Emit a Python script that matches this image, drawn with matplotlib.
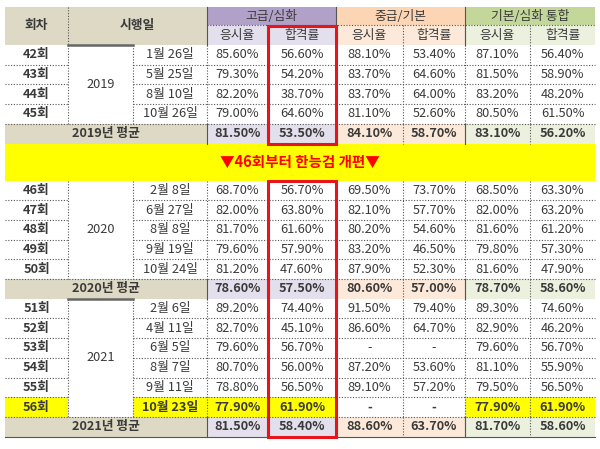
import matplotlib
matplotlib.use("Agg")
import matplotlib.pyplot as plt
from matplotlib.patches import Rectangle

plt.rcParams['font.family'] = 'Noto Sans CJK KR'

# ---- data ----
rounds_2019 = ['42회', '43회', '44회', '45회']
dates_2019 = ['1월 26일', '5월 25일', '8월 10일', '10월 26일']
vals_2019 = [
    ['85.60%', '56.60%', '88.10%', '53.40%', '87.10%', '56.40%'],
    ['79.30%', '54.20%', '83.70%', '64.60%', '81.50%', '58.90%'],
    ['82.20%', '38.70%', '83.70%', '64.00%', '83.20%', '48.20%'],
    ['79.00%', '64.60%', '81.10%', '52.60%', '80.50%', '61.50%'],
]
avg_2019 = ['81.50%', '53.50%', '84.10%', '58.70%', '83.10%', '56.20%']

rounds_2020 = ['46회', '47회', '48회', '49회', '50회']
dates_2020 = ['2월 8일', '6월 27일', '8월 8일', '9월 19일', '10월 24일']
vals_2020 = [
    ['68.70%', '56.70%', '69.50%', '73.70%', '68.50%', '63.30%'],
    ['82.00%', '63.80%', '82.10%', '57.70%', '82.00%', '63.20%'],
    ['81.70%', '61.60%', '80.20%', '54.60%', '81.60%', '61.20%'],
    ['79.60%', '57.90%', '83.20%', '46.50%', '79.80%', '57.30%'],
    ['81.20%', '47.60%', '87.90%', '52.30%', '81.60%', '47.90%'],
]
avg_2020 = ['78.60%', '57.50%', '80.60%', '57.00%', '78.70%', '58.60%']

rounds_2021 = ['51회', '52회', '53회', '54회', '55회', '56회']
dates_2021 = ['2월 6일', '4월 11일', '6월 5일', '8월 7일', '9월 11일', '10월 23일']
vals_2021 = [
    ['89.20%', '74.40%', '91.50%', '79.40%', '89.30%', '74.60%'],
    ['82.70%', '45.10%', '86.60%', '64.70%', '82.90%', '46.20%'],
    ['79.60%', '56.70%', '-', '-', '79.60%', '56.70%'],
    ['80.70%', '56.00%', '87.20%', '53.60%', '81.10%', '55.90%'],
    ['78.80%', '56.50%', '89.10%', '57.20%', '79.50%', '56.50%'],
    ['77.90%', '61.90%', '-', '-', '77.90%', '61.90%'],
]
avg_2021 = ['81.50%', '58.40%', '88.60%', '63.70%', '81.70%', '58.60%']

groups = ['고급/심화', '중급/기본', '기본/심화 통합']
sub = ['응시율', '합격률']
banner = '▼46회부터 한능검 개편▼'

# ---- layout ----
xs = [5, 68, 133, 207, 268, 336, 403, 465, 530, 595]
tan = '#ddd9c4'
hdr_col = ['#b1a0c7', '#fcd5b4', '#c4d79b']
light_col = ['#e4dfec', '#fde9d9', '#ebf1de']
RH = 19.7

fig = plt.figure(figsize=(6.0, 4.49), dpi=100)
ax = fig.add_axes([0, 0, 1, 1])
ax.set_xlim(0, 600)
ax.set_ylim(449, 0)
ax.axis('off')


def rect(x0, y0, x1, y1, fc, **kw):
    ax.add_patch(Rectangle((x0, y0), x1 - x0, y1 - y0, facecolor=fc, edgecolor='none', **kw))


def txt(x, y, s, bold=False, color='#3a3a3a', size=9.2):
    ax.text(x, y, s, ha='center', va='center', fontsize=size, color=color,
            fontweight='bold' if bold else 'normal')


def hdotted(y, x0=xs[0], x1=xs[-1]):
    ax.plot([x0, x1], [y, y], color='#555555', lw=0.8, ls=(0, (1, 1.5)))


def vdotted(x, y0, y1):
    ax.plot([x, x], [y0, y1], color='#555555', lw=0.8, ls=(0, (1, 1.5)))


# header
top, mid, bot = 7, 25, 45
rect(xs[0], top, xs[3], bot, tan)
txt((xs[0] + xs[1]) / 2, (top + bot) / 2, '회차', bold=True)
txt((xs[1] + xs[3]) / 2, (top + bot) / 2, '시행일', bold=True)
for g in range(3):
    a, b, c = xs[3 + 2 * g], xs[4 + 2 * g], xs[5 + 2 * g]
    rect(a, top, c, mid, hdr_col[g])
    rect(a, mid, c, bot, light_col[g])
    txt((a + c) / 2, (top + mid) / 2, groups[g])
    txt((a + b) / 2, (mid + bot) / 2, sub[0])
    txt((b + c) / 2, (mid + bot) / 2, sub[1])
    ax.plot([a, a], [top, bot], color='#555555', lw=0.8)
hdotted(mid, xs[3], xs[-1])
vdotted(xs[1], top, bot)
for x in xs[4:-1]:
    vdotted(x, mid, bot)


def block(y0, rounds, dates, vals, avg, year, hl_last=False):
    n = len(rounds)
    for i in range(n):
        yc = y0 + (i + 0.5) * RH
        last = hl_last and i == n - 1
        if last:
            for j in [0, 2, 3, 4, 7, 8]:
                rect(xs[j], y0 + i * RH, xs[j + 1], y0 + (i + 1) * RH, '#ffff00')
        txt((xs[0] + xs[1]) / 2, yc, rounds[i], bold=True)
        txt((xs[2] + xs[3]) / 2, yc, dates[i], bold=last)
        for j, v in enumerate(vals[i]):
            txt((xs[3 + j] + xs[4 + j]) / 2, yc, v, bold=last)
        if i > 0:
            hdotted(y0 + i * RH, xs[0], xs[1])
            hdotted(y0 + i * RH, xs[2], xs[-1])
    txt((xs[1] + xs[2]) / 2, y0 + n * RH / 2, year)
    ya = y0 + n * RH
    rect(xs[0], ya, xs[3], ya + RH, tan)
    for j in range(6):
        rect(xs[3 + j], ya, xs[4 + j], ya + RH, light_col[j // 2])
        txt((xs[3 + j] + xs[4 + j]) / 2, ya + RH / 2, avg[j], bold=True)
    txt((xs[0] + xs[3]) / 2, ya + RH / 2, year + '년 평균', bold=True)
    hdotted(ya)
    for x in [xs[1], xs[2]] + xs[3:-1]:
        vdotted(x, y0, ya)
    for x in xs[4:-1]:
        vdotted(x, ya, ya + RH)
    for x in [xs[3], xs[5], xs[7]]:
        ax.plot([x, x], [ya, ya + RH], color='#555555', lw=0.8)
    return ya + RH


y1 = block(bot, rounds_2019, dates_2019, vals_2019, avg_2019, '2019')
ax.plot([xs[1], xs[2]], [bot, bot], color='#666666', lw=1.8)
by0, by1 = y1, y1 + 37
rect(xs[0], by0, xs[-1], by1, '#ffff00')
txt((xs[0] + xs[-1]) / 2, (by0 + by1) / 2, banner, bold=True, color='#ff0000', size=10.5)
y2 = block(by1, rounds_2020, dates_2020, vals_2020, avg_2020, '2020')
y3 = block(y2, rounds_2021, dates_2021, vals_2021, avg_2021, '2021', hl_last=True)
ax.plot([xs[1], xs[2]], [y2, y2], color='#666666', lw=1.8)
ax.plot([xs[0], xs[-1]], [y3, y3], color='#555555', lw=0.8)

# red boxes on 고급 합격률
for ya, yb in [(mid + 1, y1), (by1, y3)]:
    ax.add_patch(Rectangle((xs[4], ya), xs[5] - xs[4], yb - ya, facecolor='none',
                           edgecolor='#e8141c', lw=2.2, zorder=5))

fig.savefig('out.png', dpi=100)
